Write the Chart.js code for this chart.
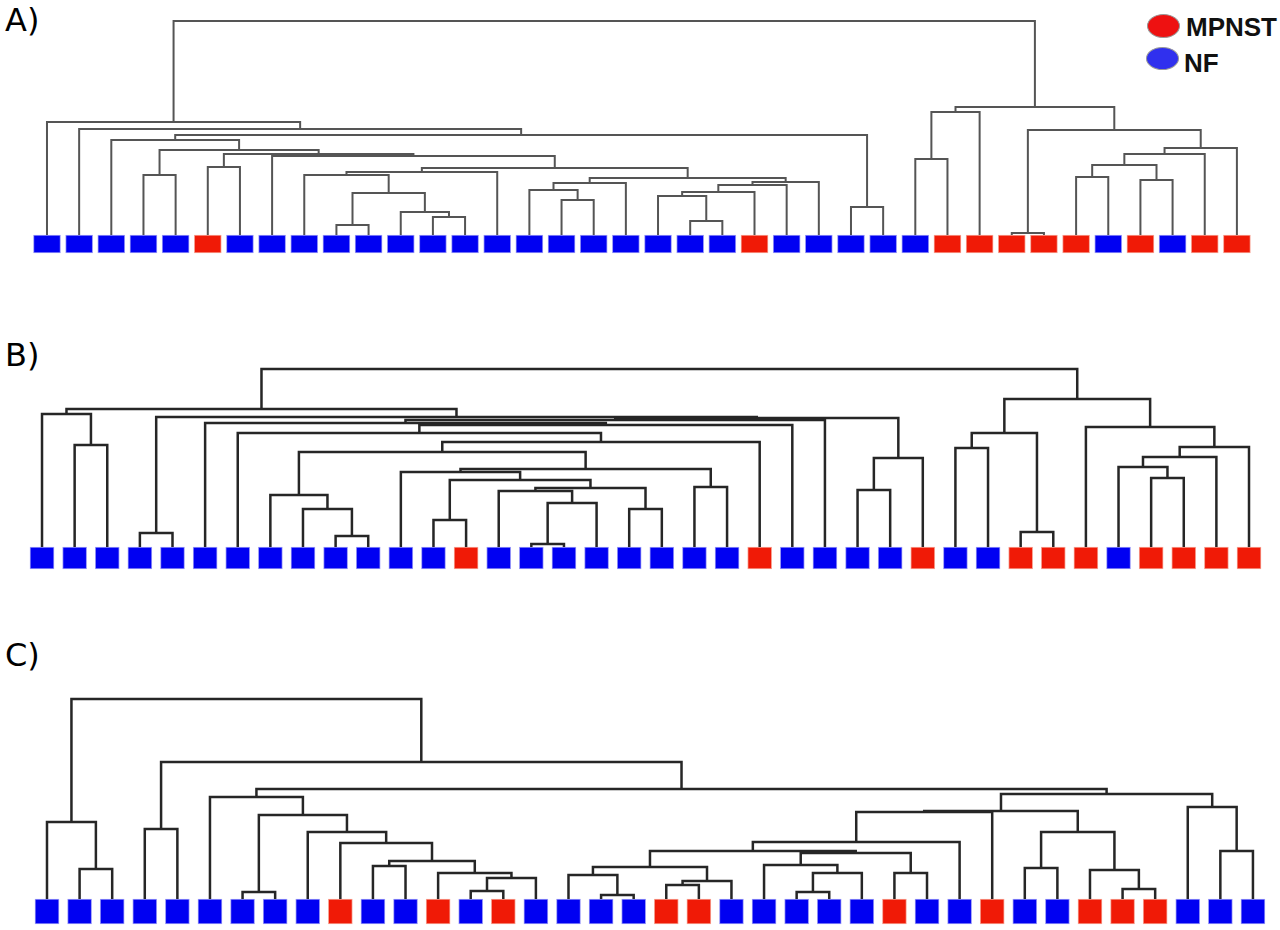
<!DOCTYPE html>
<html>
<head>
<meta charset="utf-8">
<script src="https://cdn.jsdelivr.net/npm/chart.js@4.4.0/dist/chart.umd.min.js"></script>
<style>
  body { margin: 0; background: #fff; width: 1280px; height: 930px; position: relative; overflow: hidden; }
  canvas { position: absolute; left: 0; }
  .tag { position: absolute; left: 5px; font: 32px/1 "DejaVu Sans", sans-serif; color: #000; }
  .key { position: absolute; font: bold 26px/1 "Liberation Sans", Arial, sans-serif; color: #111; }
  .dot { position: absolute; border-radius: 50%; }
</style>
</head>
<body>
<div class="tag" style="top:4px">A)</div>
<div class="tag" style="top:339px">B)</div>
<div class="tag" style="top:639px">C)</div>

<div class="dot" style="left:1147px;top:14px;width:31px;height:22px;background:#ee1111;border:1px solid #999"></div>
<div class="key" style="left:1186px;top:14px">MPNST</div>
<div class="dot" style="left:1146px;top:47px;width:31px;height:21px;background:#3030ee;border:1px solid #999"></div>
<div class="key" style="left:1184px;top:50px">NF</div>

<canvas id="chartA" width="1280" height="260" style="top:0px"></canvas>
<canvas id="chartB" width="1280" height="250" style="top:330px"></canvas>
<canvas id="chartC" width="1280" height="290" style="top:640px"></canvas>

<script>
// leaf classes, left to right (M = MPNST, N = NF)
const leavesA = ["N","N","N","N","N","M","N","N","N","N","N","N","N","N","N","N","N","N","N","N","N","N","M","N","N","N","N","N","M","M","M","M","M","N","M","N","M","M"];
const leavesB = ["N","N","N","N","N","N","N","N","N","N","N","N","N","M","N","N","N","N","N","N","N","N","M","N","N","N","N","M","N","N","M","M","M","N","M","M","M","M"];
const leavesC = ["N","N","N","N","N","N","N","N","N","M","N","N","M","N","M","N","N","N","N","M","M","N","N","N","N","N","M","N","N","M","N","N","M","M","M","N","N","N"];

// merge tables (hclust style: -k = leaf k, +j = merge row j) and merge heights
const mergeA = [[-4,-5],[-6,-7],[-10,-11],[-13,-14],[-12,4],[3,5],[-9,6],[7,-15],[-17,-18],[-16,9],
  [10,-19],[-21,-22],[-20,12],[13,-23],[14,-24],[15,-25],[11,16],[8,17],[-8,18],[2,19],
  [1,20],[-3,21],[-26,-27],[22,23],[-2,24],[-1,25],[-28,-29],[27,-30],[-31,-32],[-33,-34],
  [-35,-36],[30,31],[32,-37],[33,-38],[29,34],[28,35],[26,36]];
const heightA = [60,68,10,18,23,42,60,63,35,45,52,14,39,43,50,53,57,67,79,81,
  85,95,28,100,106,113,76,123,2,58,55,70,81,87,105,128,214];

const mergeB = [[-2,-3],[-1,1],[-4,-5],[-10,-11],[-9,4],[-8,5],[-13,-14],[-16,-17],[8,-18],[-15,9],
  [-19,-20],[10,11],[7,12],[-12,13],[-21,-22],[14,15],[6,16],[17,-23],[-7,18],[19,-24],
  [-6,20],[-26,-27],[22,-28],[21,-25],[24,23],[3,25],[2,26],[-29,-30],[-31,-32],[28,29],
  [-35,-36],[-34,31],[32,-37],[33,-38],[-33,34],[30,35],[27,36]];
const heightB = [102,133,14,11,38,52,27,3,44,56,38,59,67,75,60,78,95,105,114,122,
  124,57,89,127,129,130,138,99,15,114,69,80,90,100,120,148,178];

const mergeC = [[-2,-3],[-1,1],[-4,-5],[-7,-8],[-11,-12],[-14,-15],[6,-16],[-13,7],[5,8],[-10,9],
  [-9,10],[4,11],[-6,12],[-18,-19],[-17,14],[-20,-21],[16,-22],[15,17],[-24,-25],[19,-26],
  [-23,20],[-27,-28],[21,22],[18,23],[24,-29],[25,-30],[-31,-32],[-34,-35],[-33,28],[27,29],
  [26,30],[-37,-38],[-36,32],[31,33],[13,34],[3,35],[2,36]];
const heightC = [30,77,70,7,33,8,21,26,38,56,67,84,102,4,24,14,18,32,7,26,
  34,26,46,48,57,87,31,10,29,67,88,48,92,105,110,137,200];

const classColors = { M: "#f01a06", N: "#0000f2" };
const classEdges = { M: "#f7a394", N: "#9a9af7" };

function buildLinks(merge, height) {
  const nodeX = [];
  const nodeH = [];
  const pos = (ref) => ref < 0 ? { x: -ref, h: 0 } : { x: nodeX[ref - 1], h: nodeH[ref - 1] };
  return merge.map(([a, b], i) => {
    const pa = pos(a), pb = pos(b), h = height[i];
    nodeX[i] = (pa.x + pb.x) / 2;
    nodeH[i] = h;
    return [{ x: pa.x, y: pa.h }, { x: pa.x, y: h }, { x: pb.x, y: h }, { x: pb.x, y: pb.h }];
  });
}

function drawDendrogram(canvasId, leaves, merge, height, opts) {
  const links = buildLinks(merge, height);
  const datasets = links.map((pts) => ({
    type: "line",
    data: pts,
    showLine: true,
    borderColor: opts.lineColor,
    borderWidth: opts.lineWidth,
    pointRadius: 0,
    tension: 0,
    fill: false,
    order: 1,
  }));

  datasets.push({
    type: "bar",
    data: leaves.map((g, i) => ({ x: i + 1, y: [-opts.boxHeight, 0] })),
    backgroundColor: leaves.map((g) => classColors[g]),
    borderColor: leaves.map((g) => classEdges[g]),
    borderWidth: 1,
    borderSkipped: false,
    barThickness: opts.boxWidth,
    order: 2,
  });

  return new Chart(document.getElementById(canvasId), {
    type: "scatter",
    data: { datasets: datasets },
    options: {
      responsive: false,
      animation: false,
      events: [],
      layout: { padding: 0 },
      plugins: { legend: { display: false }, tooltip: { enabled: false } },
      scales: {
        x: { type: "linear", display: false, offset: false, min: opts.xMin, max: opts.xMax },
        y: { type: "linear", display: false, min: opts.yMin, max: opts.yMax },
      },
    },
  });
}

drawDendrogram("chartA", leavesA, mergeA, heightA, {
  lineColor: "#555", lineWidth: 2, boxHeight: 18, boxWidth: 27,
  xMin: -0.461, xMax: 39.34, yMin: -25, yMax: 235,
});
drawDendrogram("chartB", leavesB, mergeB, heightB, {
  lineColor: "#262626", lineWidth: 2.5, boxHeight: 22, boxWidth: 24,
  xMin: -0.288, xMax: 38.95, yMin: -33, yMax: 217,
});
drawDendrogram("chartC", leavesC, mergeC, heightC, {
  lineColor: "#262626", lineWidth: 2.5, boxHeight: 25, boxWidth: 24,
  xMin: -0.442, xMax: 38.83, yMin: -31, yMax: 259,
});
</script>
</body>
</html>
